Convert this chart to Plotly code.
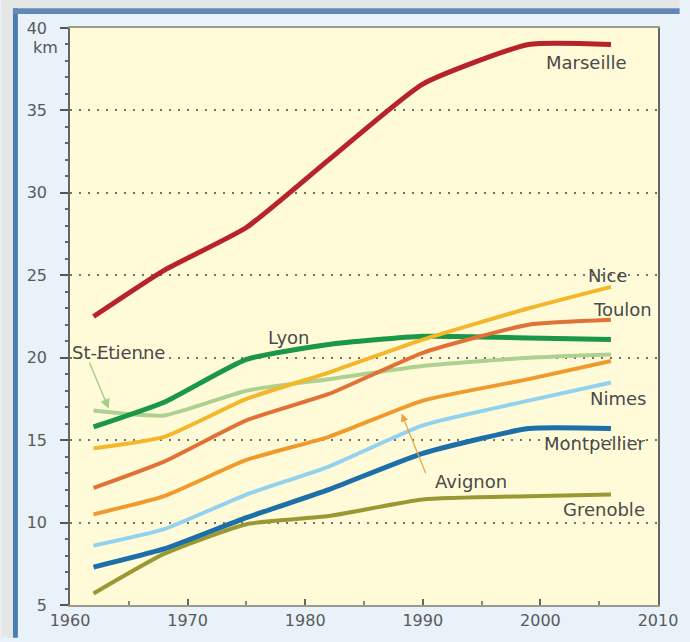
import plotly.graph_objects as go

years = [1962, 1968, 1975, 1982, 1990, 1999, 2006]

marseille = [22.5, 25.3, 27.9, 32.0, 36.6, 39.0, 39.0]
nice = [14.5, 15.2, 17.5, 19.1, 21.1, 23.0, 24.3]
toulon = [12.1, 13.7, 16.2, 17.8, 20.3, 22.0, 22.3]
lyon = [15.8, 17.3, 19.9, 20.8, 21.3, 21.2, 21.1]
st_etienne = [16.8, 16.5, 18.0, 18.7, 19.5, 20.0, 20.2]
avignon = [10.5, 11.6, 13.8, 15.2, 17.4, 18.7, 19.8]
nimes = [8.6, 9.6, 11.7, 13.4, 15.9, 17.4, 18.5]
montpellier = [7.3, 8.4, 10.3, 12.0, 14.2, 15.7, 15.7]
grenoble = [5.7, 8.1, 9.9, 10.4, 11.4, 11.6, 11.7]

series = [
    ("Grenoble", grenoble, "#9a9833", 4),
    ("Montpellier", montpellier, "#1d6fa9", 5),
    ("Nimes", nimes, "#93d2ee", 4),
    ("Avignon", avignon, "#f09a2e", 4),
    ("St-Etienne", st_etienne, "#aed192", 4),
    ("Lyon", lyon, "#1b9748", 5),
    ("Toulon", toulon, "#e07238", 4),
    ("Nice", nice, "#f4b62a", 4),
    ("Marseille", marseille, "#b8232b", 5),
]

# label texts and their centre positions (data coords)
labels = [
    ("Marseille", 2003.9, 37.9),
    ("Nice", 2005.7, 25.0),
    ("Toulon", 2007.0, 22.9),
    ("Lyon", 1978.6, 21.2),
    ("St-Etienne", 1964.1, 20.3),
    ("Nimes", 2006.6, 17.5),
    ("Montpellier", 2004.6, 14.8),
    ("Avignon", 1994.1, 12.5),
    ("Grenoble", 2005.4, 10.8),
]

x_ticks = [1960, 1970, 1980, 1990, 2000, 2010]
y_ticks = [5, 10, 15, 20, 25, 30, 35, 40]

fig = go.Figure()
for name, vals, color, w in series:
    fig.add_trace(go.Scatter(x=years, y=vals, mode="lines", name=name,
                             line=dict(color=color, width=w, shape="spline", smoothing=0.5)))

W, H = 690, 642
L, R, T, B = 70, 22, 28, 33
pw, ph = W - L - R, H - T - B


def xp(px):
    return (px - L) / pw


def yp(py):
    return (H - B - py) / ph


shapes = [
    dict(type="rect", xref="paper", yref="paper", x0=xp(0), x1=xp(W), y0=yp(8), y1=yp(0),
         fillcolor="#e6e6e6", line=dict(width=0), layer="below"),
    dict(type="rect", xref="paper", yref="paper", x0=xp(0), x1=xp(12), y0=yp(H), y1=yp(0),
         fillcolor="#e6e6e6", line=dict(width=0), layer="below"),
    dict(type="rect", xref="paper", yref="paper", x0=xp(12), x1=xp(17), y0=yp(H), y1=yp(8),
         fillcolor="#4b7db5", line=dict(width=0), layer="below"),
    dict(type="rect", xref="paper", yref="paper", x0=xp(12), x1=xp(W), y0=yp(14), y1=yp(8),
         fillcolor="#6289b6", line=dict(width=0), layer="below"),
]

annotations = []
lab_font = dict(family="DejaVu Sans", size=18, color="#4a4a4a")
for text, x, y in labels:
    annotations.append(dict(x=x, y=y, xref="x", yref="y", text=text, showarrow=False,
                            xanchor="center", yanchor="middle", font=lab_font))

annotations.append(dict(x=1963.3, y=16.9, ax=1961.6, ay=19.8, xref="x", yref="y",
                        axref="x", ayref="y", text="", showarrow=True, arrowhead=2,
                        arrowsize=1.3, arrowwidth=1.5, arrowcolor="#a8cf8a"))
annotations.append(dict(x=1988.2, y=16.6, ax=1990.3, ay=12.9, xref="x", yref="y",
                        axref="x", ayref="y", text="", showarrow=True, arrowhead=2,
                        arrowsize=1.3, arrowwidth=1.2, arrowcolor="#e8a040"))
annotations.append(dict(x=xp(60), y=38.8, xref="paper", yref="y", text="km", showarrow=False,
                        xanchor="right", yanchor="middle",
                        font=dict(family="DejaVu Sans", size=16, color="#555555")))

fig.update_layout(
    width=W, height=H,
    margin=dict(l=L, r=R, t=T, b=B, pad=0),
    paper_bgcolor="#e9f1f9",
    plot_bgcolor="#fffbd8",
    showlegend=False,
    shapes=shapes,
    annotations=annotations,
    font=dict(family="DejaVu Sans", size=16, color="#5a5a5a"),
)

fig.update_xaxes(
    range=[1960, 2010], tickvals=x_ticks, ticktext=[str(v) for v in x_ticks],
    showgrid=False, zeroline=False,
    showline=True, linecolor="#9a9a90", linewidth=2, mirror=True,
    ticks="inside", ticklen=6, tickwidth=2, tickcolor="#666666",
    minor=dict(dtick=5, tick0=1960, ticks="inside", ticklen=4, tickcolor="#888888", showgrid=False),
    tickfont=dict(family="DejaVu Sans", size=16, color="#5a5a5a"),
    ticklabelstandoff=0,
)
fig.update_yaxes(
    range=[5, 40], tickvals=y_ticks, ticktext=[str(v) for v in y_ticks],
    showgrid=True, gridcolor="#6f6f6f", gridwidth=1.5, griddash="2px,7px",
    zeroline=False,
    showline=True, linecolor="#666666", linewidth=1.5, mirror=True,
    ticks="outside", ticklen=8, tickwidth=2, tickcolor="#555555",
    minor=dict(dtick=1, tick0=5, ticks="outside", ticklen=3, tickcolor="#666666", showgrid=False),
    tickfont=dict(family="DejaVu Sans", size=16, color="#5a5a5a"),
    ticklabelstandoff=10,
)

fig.write_html(
    "out.html",
    config={"displayModeBar": False},
    post_script="document.body.style.margin='0px';document.body.style.overflow='hidden';",
)
